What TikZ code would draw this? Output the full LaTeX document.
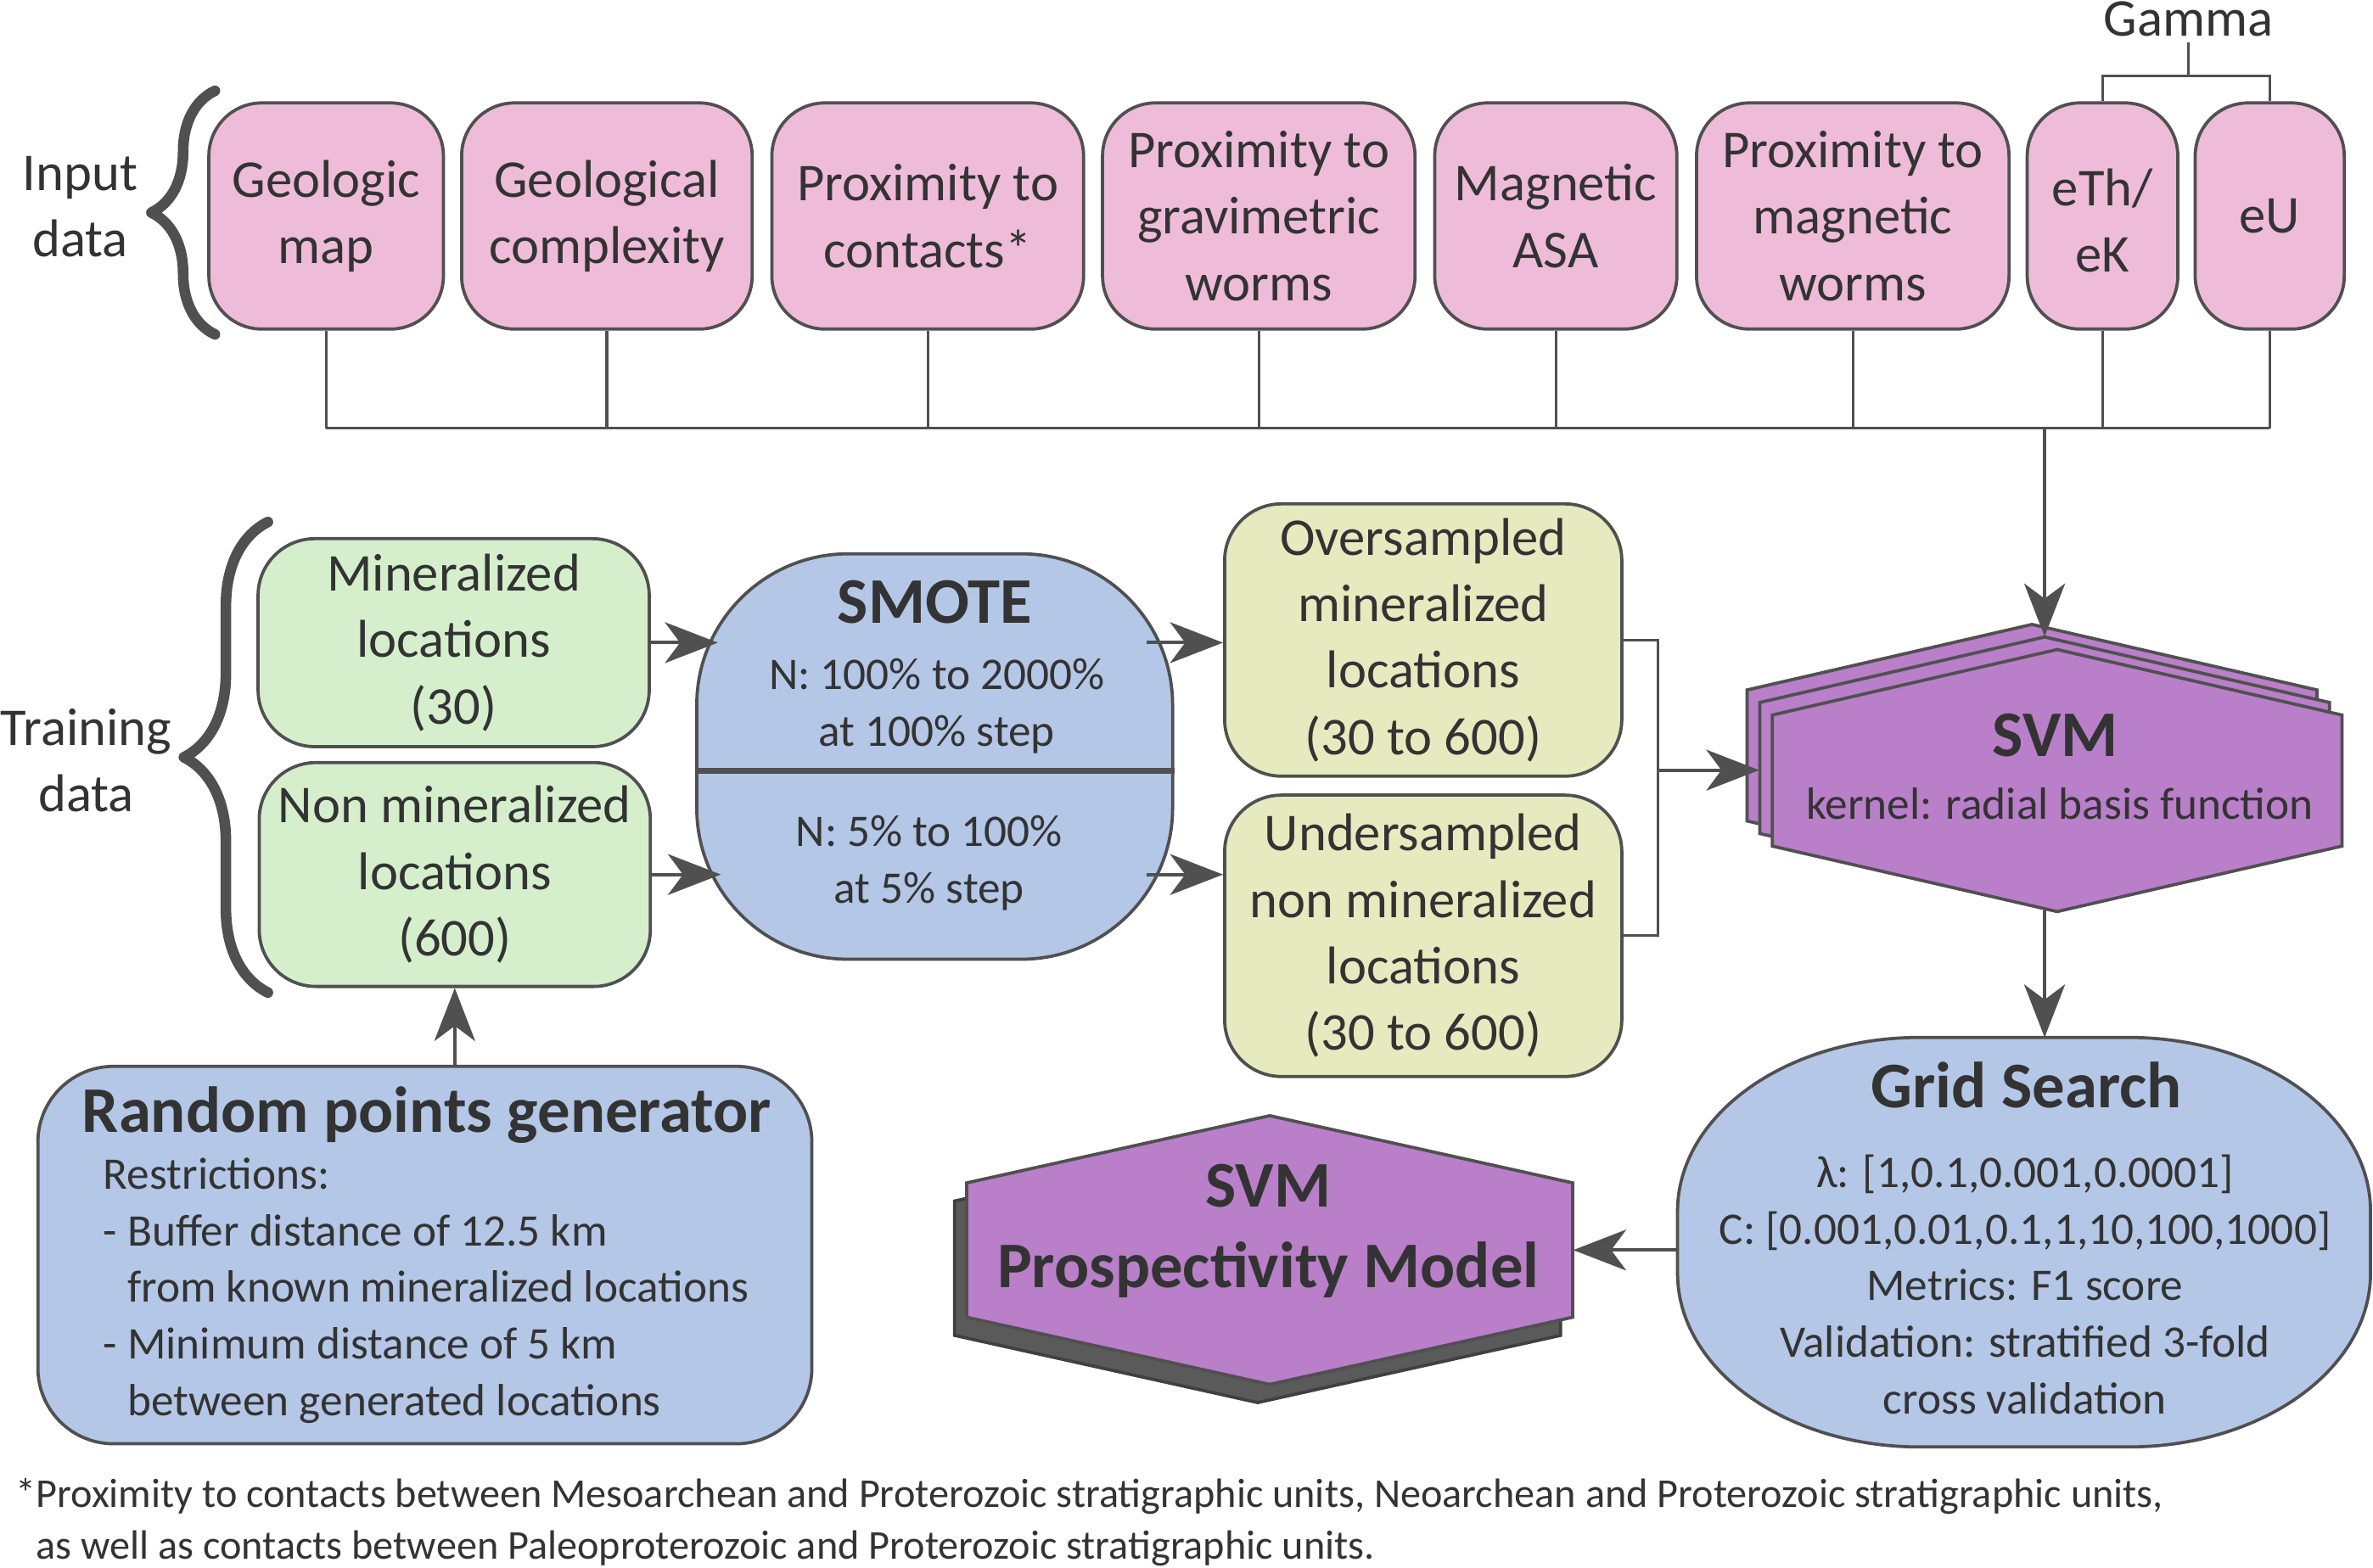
\documentclass[tikz,border=0pt]{standalone}
\usepackage{fontspec}
\setmainfont{Carlito}
\usetikzlibrary{arrows.meta,decorations.pathreplacing}
\definecolor{txt}{HTML}{333333}
\definecolor{bord}{HTML}{505050}
\definecolor{pinkfill}{HTML}{EEBCD8}
\definecolor{greenfill}{HTML}{D5EFCD}
\definecolor{yellowfill}{HTML}{E6EABF}
\definecolor{bluefill}{HTML}{B4C7E7}
\definecolor{purplefill}{HTML}{B97FC9}
\definecolor{shadowfill}{HTML}{5A5A5A}
\newcommand{\bigtxt}{\fontsize{20}{25}\selectfont}
\newcommand{\smalltxt}{\fontsize{17}{21.3}\selectfont}
\newcommand{\titletxt}{\fontsize{24.5}{30.2}\selectfont\bfseries}
\newcommand{\notetxt}{\fontsize{15.4}{19.4}\selectfont}
\tikzset{
  box/.style={draw=bord, line width=1.2pt, align=center, text=txt, font=\bigtxt, inner sep=0pt},
  inbox/.style={box, fill=pinkfill, rounded corners=0.7cm, minimum height=2.99cm},
  trainbox/.style={box, fill=greenfill, rounded corners=0.75cm, minimum width=5.17cm},
  samplebox/.style={box, fill=yellowfill, rounded corners=0.75cm, minimum width=5.25cm},
  hexa/.style={draw=bord, line width=1.2pt, fill=purplefill},
  lbl/.style={text=txt, align=center, inner sep=0pt},
  conn/.style={draw=bord, line width=1pt},
  arr/.style={draw=bord, line width=1.3pt, -{Stealth[length=0.7cm, width=0.54cm, inset=0.2cm]}},
  curly/.style={draw=bord, line width=4pt, line cap=round, line join=round, decorate, decoration={brace, amplitude=#1}}
}
\begin{document}
\begin{tikzpicture}[x=0.02cm, y=-0.02cm]
\useasboundingbox (0,0) rectangle (1568,1036);

\foreach \nm/\cx/\w/\lbltext in {geo/215.5/3.10/{Geologic\\map}, cplx/401/3.84/{Geological\\complexity}, cont/613/4.12/{Proximity to\\contacts*}, grav/831.75/4.13/{Proximity to\\gravimetric\\worms}, asa/1028/3.20/{Magnetic\\ASA}, magw/1224.25/4.13/{Proximity to\\magnetic\\worms}, eth/1389.25/1.99/{\strut eTh/\\eK}, eu/1499.75/1.97/{eU}}
  \node[inbox, minimum width=\w cm] (\nm) at (\cx,142.75) {\lbltext};

\node[lbl, font=\bigtxt] (gamma) at (1446,12.6) {Gamma};
\coordinate (gj) at (1446,50);
\draw[conn] (eth.north) |- (gj) -| (eu.north);
\draw[conn] (gj) -- (gamma.south |- 0,28);

\draw[curly=0.84cm] (142,221) -- (142,60);
\node[lbl, font=\bigtxt] (inlbl) at (53,136.5) {Input\\data};
\draw[curly=1.11cm] (177,656) -- (177,345);
\node[lbl, font=\bigtxt] (trlbl) at (57,502.5) {Training\\data};

\node[trainbox, minimum height=2.75cm] (minz) at (299.75,424.75) {Mineralized\\locations\\(30)};
\node[trainbox, minimum height=2.96cm] (nonminz) at (300.5,578) {Non mineralized\\locations\\(600)};

\node[box, fill=bluefill, rounded corners=2cm, minimum width=6.29cm, minimum height=5.36cm] (smote) at (617.6,500) {};
\coordinate (cut) at (617.6,509.5);
\draw[draw=bord, line width=2.4pt] (smote.west |- cut) -- (smote.east |- cut);
\node[lbl, font=\titletxt] (smotetitle) at (617.6,398) {SMOTE};
\node[lbl, font=\smalltxt] (smoteover) at (619,466.5) {N: 100\% to 2000\%\\at 100\% step};
\node[lbl, font=\smalltxt] (smoteunder) at (614,570.5) {N: 5\% to 100\%\\at 5\% step};

\node[samplebox, minimum height=3.6cm] (over) at (940.4,423) {Oversampled\\mineralized\\locations\\(30 to 600)};
\node[samplebox, minimum height=3.72cm] (under) at (940.4,618.5) {Undersampled\\non mineralized\\locations\\(30 to 600)};

\node[minimum width=7.53cm, minimum height=3.464cm, inner sep=0pt] (svm) at (1351,507.6) {};
\foreach \d in {-8.3,0,8.3}
  \filldraw[hexa] ([shift={(\d,\d)}]svm.center) ++(-188.25,-43.3) -- ++(188.25,-43.3) -- ++(188.25,43.3) -- ++(0,86.6) -- ++(-188.25,43.3) -- ++(-188.25,-43.3) -- cycle;
\node[lbl, font=\titletxt] (svmtitle) at (1358,486) {SVM};
\node[lbl, font=\smalltxt] (svmkernel) at (1361,531) {kernel: radial basis function};

\node[minimum width=9.146cm, minimum height=5.4cm, inner sep=0pt] (grid) at (1337.4,821) {};
\filldraw[draw=bord, line width=1.2pt, fill=bluefill] ([xshift=3.2cm]grid.north west) -- ([xshift=-3.2cm]grid.north east)
  arc[start angle=90, end angle=0, x radius=3.2cm, y radius=2.3cm] -- ([yshift=2.3cm]grid.south east)
  arc[start angle=0, end angle=-90, x radius=3.2cm, y radius=2.3cm] -- ([xshift=3.2cm]grid.south west)
  arc[start angle=-90, end angle=-180, x radius=3.2cm, y radius=2.3cm] -- ([yshift=-2.3cm]grid.north west)
  arc[start angle=180, end angle=90, x radius=3.2cm, y radius=2.3cm] -- cycle;
\node[lbl, font=\titletxt] (gridtitle) at (1339,717) {Grid Search};
\node[lbl, font=\smalltxt] (gridbody) at (1338,849) {λ: [1,0.1,0.001,0.0001]\\C: [0.001,0.01,0.1,1,10,100,1000]\\Metrics: F1 score\\Validation: stratified 3-fold\\cross validation};

\node[minimum width=8.01cm, minimum height=3.55cm, inner sep=0pt] (model) at (839,826.2) {};
\filldraw[draw=bord!80!black, line width=1.2pt, fill=shadowfill] ([shift={(-8,12)}]model.center) ++(-200.2,-44.4) -- ++(200.2,-44.4) -- ++(200.2,44.4) -- ++(0,88.8) -- ++(-200.2,44.4) -- ++(-200.2,-44.4) -- cycle;
\filldraw[hexa] (model.center) ++(-200.2,-44.4) -- ++(200.2,-44.4) -- ++(200.2,44.4) -- ++(0,88.8) -- ++(-200.2,44.4) -- ++(-200.2,-44.4) -- cycle;
\node[lbl, font=\titletxt] (modeltitle) at (838,813.5) {SVM\\Prospectivity Model};

\node[box, fill=bluefill, rounded corners=1cm, minimum width=10.23cm, minimum height=4.99cm] (rpg) at (280.75,829.5) {};
\node[lbl, font=\titletxt] (rpgtitle) at (282,737) {Random points generator};
\node[lbl, font=\smalltxt, align=left, anchor=west] (rpgbody) at (68,853) {Restrictions:\\- Buffer distance of 12.5 km\\\phantom{- }from known mineralized locations\\- Minimum distance of 5 km\\\phantom{- }between generated locations};

\node[lbl, font=\notetxt, align=left, anchor=west] (note) at (10,1006) {*Proximity to contacts between Mesoarchean and Proterozoic stratigraphic units, Neoarchean and Proterozoic stratigraphic units,\\\phantom{*}as well as contacts between Paleoproterozoic and Proterozoic stratigraphic units.};

\coordinate (bus) at (0,283);
\foreach \nm in {geo,cplx,cont,grav,asa,magw,eth,eu}
  \draw[conn] (\nm.south) -- (\nm.south |- bus);
\draw[conn] (geo.south |- bus) -- (eu.south |- bus);
\draw[arr] (svm.north |- bus) -- (svm.north);
\draw[arr] (minz.east) -- ([xshift=0.3cm]smote.west |- minz.east);
\draw[arr] (nonminz.east) -- ([xshift=0.34cm]smote.west |- nonminz.east);
\draw[arr] ([xshift=-0.36cm]smote.east |- minz.east) -- (over.west |- minz.east);
\draw[arr] ([xshift=-0.36cm]smote.east |- nonminz.east) -- (under.west |- nonminz.east);
\coordinate (bj) at (1095.5,509);
\draw[conn] (over.east) -| (bj) |- (under.east);
\draw[arr] (bj) -- (bj -| svm.west);
\draw[arr] ([yshift=-0.14cm]svm.south) -- (svm.south |- grid.north);
\draw[arr] (grid.west |- model.east) -- (model.east);
\draw[arr] (rpg.north -| nonminz.south) -- (nonminz.south);
\end{tikzpicture}
\end{document}
